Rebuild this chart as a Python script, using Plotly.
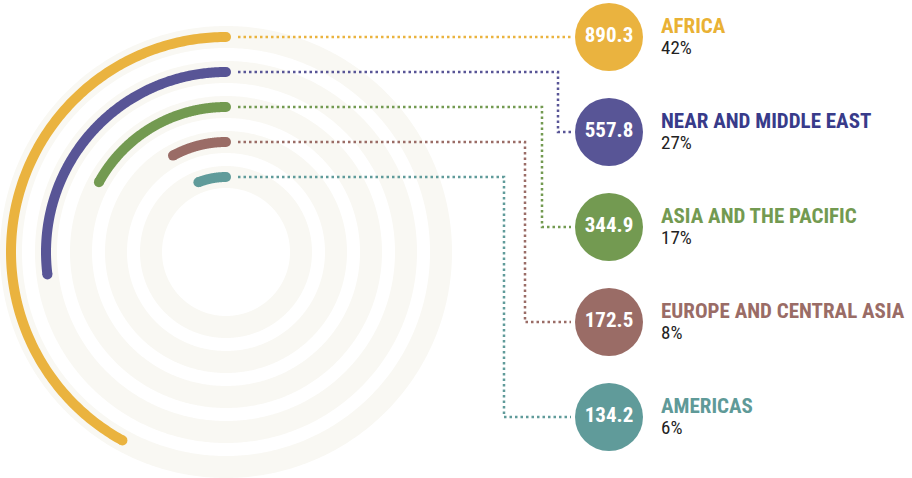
import numpy as np
import plotly.graph_objects as go

regions = ["AFRICA", "NEAR AND MIDDLE EAST", "ASIA AND THE PACIFIC",
           "EUROPE AND CENTRAL ASIA", "AMERICAS"]
values = [890.3, 557.8, 344.9, 172.5, 134.2]
shares = [42, 27, 17, 8, 6]
colors = ["#EAB33F", "#585596", "#739A51", "#9A6C66", "#609B9A"]
name_colors = ["#E9B134", "#383B8A", "#739A51", "#9A6C66", "#5F9A98"]

# layout in pixel space
W, H = 912, 478
cx, cy = 226, 252
radii = [215, 180, 145, 110, 75]
ring_w = 22
arc_w = 10
bub_x = 609
bub_y = [37, 132, 227, 322, 417]
bub_r = 34
elbow_x = [None, 558, 542, 525, 504]
lead_x0 = 238
label_x = 659

NARROW = "Liberation Sans Narrow, Arial Narrow, Roboto Condensed, sans-serif"

fig = go.Figure()

# faint background rings
t = np.linspace(0, 2 * np.pi, 721)
for r in radii:
    fig.add_trace(go.Scatter(
        x=cx + r * np.cos(t), y=cy - r * np.sin(t), mode="lines",
        line=dict(color="#F9F8F3", width=ring_w, simplify=False),
        hoverinfo="skip"))

for i, name in enumerate(regions):
    r = radii[i]
    ang = np.deg2rad(shares[i] * 3.6)
    th = np.linspace(np.pi / 2, np.pi / 2 + ang, 200)
    ax = cx + r * np.cos(th)
    ay = cy - r * np.sin(th)
    fig.add_trace(go.Scatter(
        x=ax, y=ay, mode="lines",
        line=dict(color=colors[i], width=arc_w, simplify=False),
        hoverinfo="skip"))
    # round caps
    fig.add_trace(go.Scatter(
        x=[ax[0], ax[-1]], y=[ay[0], ay[-1]], mode="markers",
        marker=dict(color=colors[i], size=arc_w, opacity=1,
                    line=dict(width=0)),
        hoverinfo="skip"))

    # dotted leader line
    y0 = cy - r
    if elbow_x[i] is None:
        lx = [lead_x0, bub_x - bub_r - 4]
        ly = [y0, y0]
    else:
        lx = [lead_x0, elbow_x[i], elbow_x[i], bub_x - bub_r - 4]
        ly = [y0, y0, bub_y[i], bub_y[i]]
    fig.add_trace(go.Scatter(
        x=lx, y=ly, mode="lines",
        line=dict(color=colors[i], width=2.5, dash="2.5px,3px"),
        hoverinfo="skip"))

    # bubble with value
    fig.add_trace(go.Scatter(
        x=[bub_x], y=[bub_y[i]], mode="markers+text",
        marker=dict(color=colors[i], size=2 * bub_r, line=dict(width=0)),
        text=[f"<b>{values[i]:.1f}</b>"], textposition="middle center",
        textfont=dict(family=NARROW, size=21, color="white"),
        hoverinfo="skip"))

    fig.add_annotation(
        x=label_x, y=bub_y[i] - 11, xref="x", yref="y", xanchor="left",
        yanchor="middle", showarrow=False, text=f"<b>{name}</b>",
        font=dict(family=NARROW, size=21, color=name_colors[i]))
    fig.add_annotation(
        x=label_x, y=bub_y[i] + 10, xref="x", yref="y", xanchor="left",
        yanchor="middle", showarrow=False, text=f"{shares[i]}%",
        font=dict(family=NARROW, size=19, color="#222222"))

fig.update_layout(
    width=W, height=H, margin=dict(l=0, r=0, t=0, b=0),
    paper_bgcolor="white", plot_bgcolor="white", showlegend=False,
    xaxis=dict(range=[0, W], visible=False, fixedrange=True),
    yaxis=dict(range=[H, 0], visible=False, fixedrange=True),
)

fig.write_html("out.html", config={"displayModeBar": False},
               post_script="document.body.style.margin='0';")
